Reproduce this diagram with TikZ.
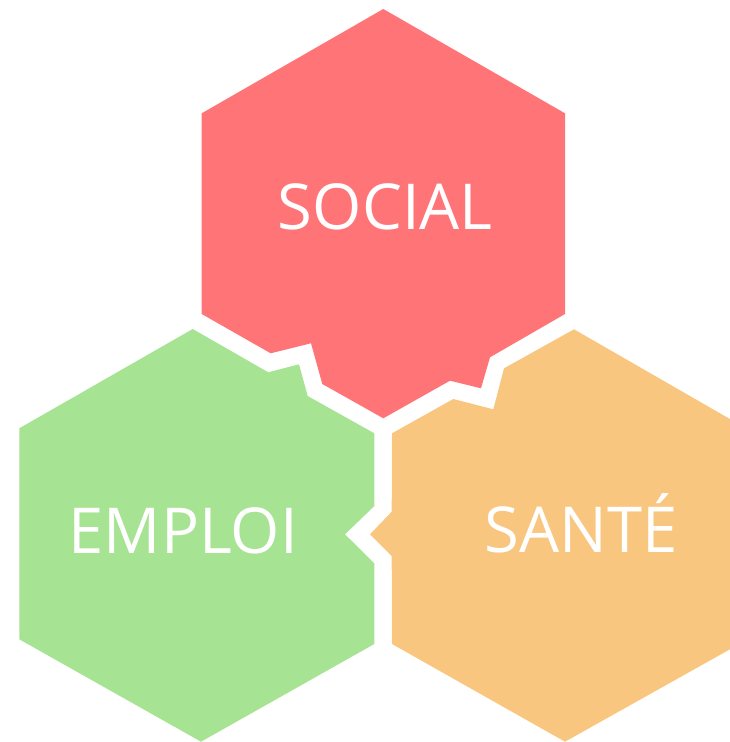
\documentclass[tikz,border=0pt]{standalone}
\usepackage{fontspec}
\newfontfamily\hexfont{Open Sans}
\definecolor{socialred}{HTML}{FF7476}
\definecolor{emploigreen}{HTML}{A6E392}
\definecolor{santeorange}{HTML}{F9C67F}
\tikzset{
  hexlabel/.style={anchor=base, inner sep=0pt, text=white, font=\hexfont\fontsize{47.5}{57}\selectfont}
}
\begin{document}
\begin{tikzpicture}[x=0.75pt, y=-0.75pt]
  \clip (0,0) rectangle (730,742);

  \fill [socialred] (383.3,9) -- (565,113.3) -- (565,314) -- (490,357.3) -- (481,388.3) -- (450,380.7)
    -- (383.3,418.3) -- (322.3,384) -- (311,343.3) -- (270.7,353.3) -- (201.7,314) -- (201.7,113.3) -- cycle;

  \fill [emploigreen] (192.7,329) -- (268.3,372.3) -- (299,364.3) -- (307.7,396) -- (374.3,433.3)
    -- (374.3,506) -- (345,534.3) -- (374.3,563.3) -- (374.3,644) -- (201,741.7) -- (19.3,639.3) -- (19.3,428.3) -- cycle;

  \fill [santeorange] (574,329.3) -- (756,434) -- (756,634.7) -- (565,741.7) -- (392,644) -- (391.7,556)
    -- (370,534.3) -- (391.7,511.7) -- (392,433.3) -- (453.3,399) -- (493.3,409.3) -- (504,368.3) -- cycle;

  \node [hexlabel] (social) at (385.3,229.3) {SOCIAL};
  \node [hexlabel] (emploi) at (183.3,553.3) {EMPLOI};
  \node [hexlabel] (sante) at (581.3,552.7) {SANTÉ};
\end{tikzpicture}
\end{document}
